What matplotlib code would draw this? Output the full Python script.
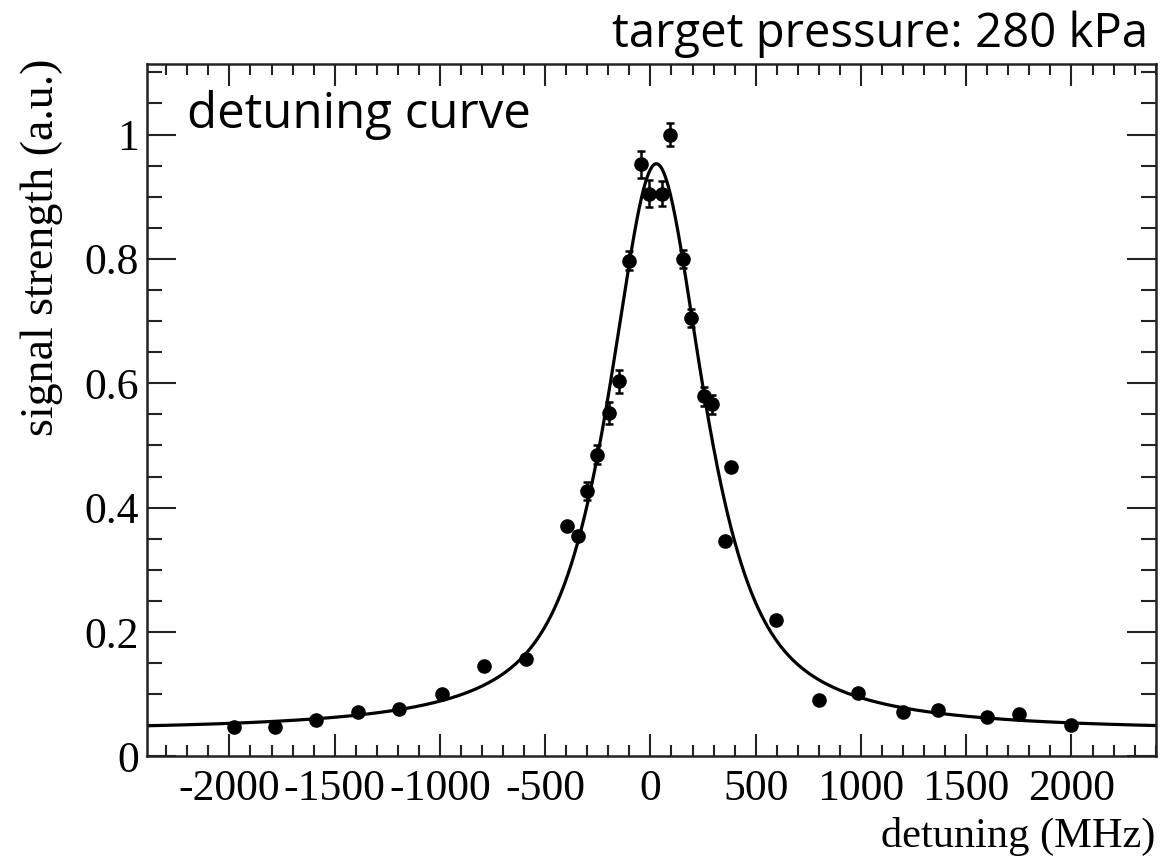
import numpy as np
import matplotlib
matplotlib.use("Agg")
import matplotlib.pyplot as plt
from matplotlib.ticker import MultipleLocator, FuncFormatter

plt.rcParams["axes.unicode_minus"] = False

# measured points (detuning in MHz, normalised signal)
detuning = [-1980, -1782, -1588, -1391, -1196, -989, -792, -592,
            -398, -345, -302, -253, -198, -150, -103, -43, -5, 55, 92,
            155, 193, 253, 293, 356, 384,
            595, 800, 984, 1199, 1364, 1598, 1752, 2000]
signal = [0.048, 0.047, 0.059, 0.071, 0.077, 0.101, 0.146, 0.157,
          0.371, 0.355, 0.427, 0.485, 0.552, 0.603, 0.797, 0.952, 0.905, 0.905, 1.000,
          0.800, 0.705, 0.579, 0.566, 0.346, 0.466,
          0.219, 0.091, 0.102, 0.071, 0.074, 0.063, 0.069, 0.051]
signal_err = [0.004, 0.004, 0.004, 0.004, 0.004, 0.004, 0.004, 0.004,
              0.005, 0.008, 0.015, 0.015, 0.018, 0.018, 0.015, 0.022, 0.022, 0.02, 0.018,
              0.015, 0.015, 0.015, 0.015, 0.005, 0.005,
              0.004, 0.004, 0.004, 0.004, 0.004, 0.004, 0.004, 0.004]

# fit parameters (pseudo-Voigt + offset)
fit_offset = 0.04
fit_amp = 0.913
fit_center = 28.0
fit_hwhm = 272.0
fit_eta = 0.82

x_ticks = [-2000, -1500, -1000, -500, 0, 500, 1000, 1500, 2000]
y_ticks = [0, 0.2, 0.4, 0.6, 0.8, 1.0]

serif = ["Liberation Serif", "DejaVu Serif"]
sans = ["Open Sans", "DejaVu Sans"]

fig = plt.figure(figsize=(11.71, 8.61), dpi=100)
ax = fig.add_axes([0.1258, 0.1214, 0.8611, 0.8040])

xf = np.linspace(-2390, 2400, 1200)
d = (xf - fit_center) / fit_hwhm
lor = 1.0 / (1.0 + d**2)
gau = np.exp(-np.log(2) * d**2)
yf = fit_offset + fit_amp * (fit_eta * lor + (1 - fit_eta) * gau)
ax.plot(xf, yf, color="black", linewidth=2.3, zorder=2)

ax.errorbar(detuning, signal, yerr=signal_err, fmt="o", color="black",
            markersize=9.5, elinewidth=1.8, capsize=3, capthick=1.8, zorder=3)

ax.set_xlim(-2390, 2400)
ax.set_ylim(0, 1.113)

ax.set_xticks(x_ticks)
ax.set_yticks(y_ticks)
ax.xaxis.set_minor_locator(MultipleLocator(100))
ax.yaxis.set_minor_locator(MultipleLocator(0.05))
ax.yaxis.set_major_formatter(FuncFormatter(lambda v, p: f"{v:g}"))
ax.xaxis.set_major_formatter(FuncFormatter(lambda v, p: f"{v:g}"))

ax.tick_params(axis="both", which="both", direction="in", top=True, right=True,
               width=1.5, color="#222222")
ax.tick_params(axis="x", which="major", length=15.5, pad=9)
ax.tick_params(axis="x", which="minor", length=7.8)
ax.tick_params(axis="y", which="major", length=21, pad=6)
ax.tick_params(axis="y", which="minor", length=10.5)
for lab in ax.get_xticklabels() + ax.get_yticklabels():
    lab.set_fontfamily(serif)
    lab.set_fontsize(31.5)
for sp in ax.spines.values():
    sp.set_linewidth(1.8)
    sp.set_color("#222222")

fig.text(42 / 1171, 1 - 59 / 861, "signal strength (a.u.)", rotation=90,
         ha="center", va="top", fontsize=33, family=serif)
fig.text(1155 / 1171, 1 - 856 / 861, "detuning (MHz)", ha="right", va="bottom",
         fontsize=30.5, family=serif)

ax.text(187 / 1171, 1 - 90 / 861, "detuning curve", transform=fig.transFigure,
        ha="left", va="top", fontsize=35.5, family=sans)
fig.text(1148 / 1171, 1 - 10 / 861, "target pressure: 280 kPa", ha="right", va="top",
         fontsize=34, family=sans)

fig.savefig("out.png", dpi=100, facecolor="white")
